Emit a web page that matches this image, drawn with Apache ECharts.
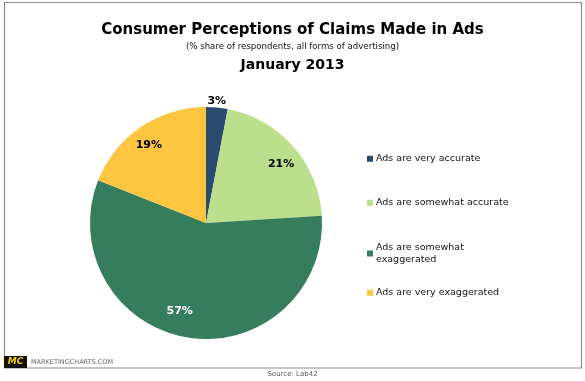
<!DOCTYPE html>
<html><head><meta charset="utf-8">
<script src="https://cdn.jsdelivr.net/npm/echarts@6/dist/echarts.min.js"></script>
<style>html,body{margin:0;padding:0;background:#fff}#c{width:585px;height:381px}</style>
</head><body><div id="c"></div>
<script>
const categories = ['Ads are very accurate','Ads are somewhat accurate','Ads are somewhat exaggerated','Ads are very exaggerated'];
const legendLabels = ['Ads are very accurate','Ads are somewhat accurate','Ads are somewhat\nexaggerated','Ads are very exaggerated'];
const values = [3, 21, 57, 19];
const colors = ['#2a4a70','#bcdf8e','#367d5d','#fdc540'];
const labelColors = ['#000','#000','#fff','#000'];
const labelNudge = [[-1,2.5],[1.5,6.5],[-11,-8.5],[-2,3]];

const FONT = '"DejaVu Sans", Verdana, sans-serif';
const chart = echarts.init(document.getElementById('c'), null, {renderer:'canvas'});
const C = [206, 223], R = 116;

const mainData = categories.map((n,i)=>({name:n, value:values[i], itemStyle:{color:colors[i]}}));
const innerLabelData = categories.map((n,i)=>({name:n, value:values[i],
  label:{show: i!==0, color: labelColors[i]}}));
const outerLabelData = categories.map((n,i)=>({name:n, value:values[i],
  label:{show: i===0, color: labelColors[i]}}));

const legendTops = [153, 197, 242, 287];
const legends = categories.map((n,i)=>({
  data:[n], left:367, top:legendTops[i], orient:'vertical',
  itemWidth:6, itemHeight:6, itemGap:0, padding:0, icon:'rect',
  selectedMode:false,
  formatter: ()=>legendLabels[i],
  textStyle:{fontFamily:FONT, fontSize:9.5, color:'#111', lineHeight:11.5, padding:[0,0,0,-2]}
}));

const nudge = p => ({dx: labelNudge[p.dataIndex][0], dy: labelNudge[p.dataIndex][1]});

chart.setOption({
  animation:false,
  backgroundColor:'#fff',
  title:[
    {text:'Consumer Perceptions of Claims Made in Ads', left:'center', top:21, padding:0,
     textStyle:{fontFamily:FONT, fontWeight:'bold', fontSize:15, color:'#000', lineHeight:19}},
    {text:'(% share of respondents, all forms of advertising)', left:'center', top:41, padding:0,
     textStyle:{fontFamily:FONT, fontWeight:'normal', fontSize:8.6, color:'#111', lineHeight:12}},
    {text:'January 2013', left:'center', top:57, padding:0,
     textStyle:{fontFamily:FONT, fontWeight:'bold', fontSize:14, color:'#000', lineHeight:17}},
    {text:'Source: Lab42', left:'center', top:369, padding:0,
     textStyle:{fontFamily:FONT, fontWeight:'normal', fontSize:7, color:'#555', lineHeight:10}}
  ],
  legend: legends,
  graphic:[
    {type:'rect', shape:{x:4.5, y:2.5, width:577, height:365.5}, style:{fill:'none', stroke:'#8c8c8c', lineWidth:1.2}, silent:true},
    {type:'rect', shape:{x:4, y:356, width:23, height:12}, style:{fill:'#111'}, silent:true},
    {type:'text', x:15.5, y:362, style:{text:'MC', fill:'#f5d200', font:'italic bold 9px '+FONT, align:'center', verticalAlign:'middle'}, silent:true},
    {type:'text', x:31, y:362, style:{text:'MARKETINGCHARTS.COM', fill:'#666', font:'6.5px '+FONT, verticalAlign:'middle'}, silent:true}
  ],
  series:[
    {type:'pie', center:C, radius:[0,R], startAngle:90, clockwise:true,
     label:{show:false}, labelLine:{show:false}, data:mainData, silent:true},
    {type:'pie', center:C, radius:[R*0.64, R], startAngle:90, clockwise:true, silent:true,
     itemStyle:{color:'rgba(0,0,0,0)'}, labelLine:{show:false}, labelLayout: nudge,
     label:{position:'inside', formatter:'{c}%', fontFamily:FONT, fontWeight:'bold', fontSize:11},
     data:innerLabelData},
    {type:'pie', center:C, radius:[R, R*1.1], startAngle:90, clockwise:true, silent:true,
     itemStyle:{color:'rgba(0,0,0,0)'}, labelLine:{show:false}, labelLayout: nudge,
     label:{position:'inside', formatter:'{c}%', fontFamily:FONT, fontWeight:'bold', fontSize:11},
     data:outerLabelData}
  ]
});
</script></body></html>
